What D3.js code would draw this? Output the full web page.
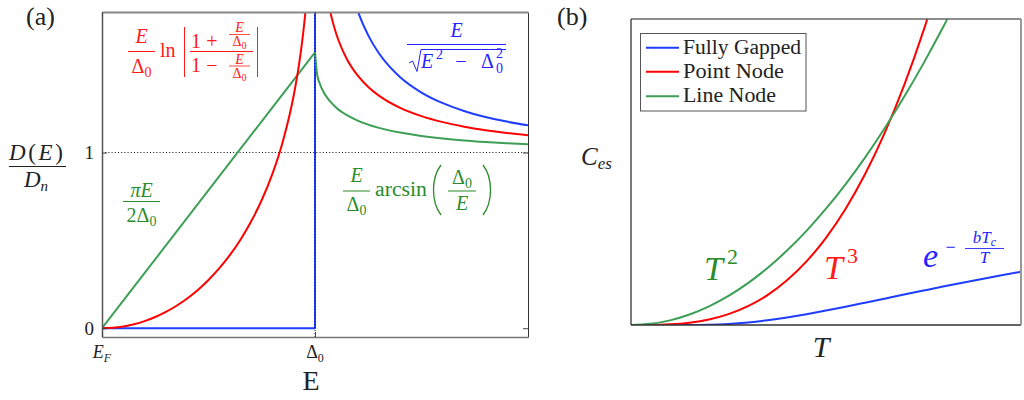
<!DOCTYPE html>
<html>
<head>
<meta charset="utf-8">
<script src="https://cdn.jsdelivr.net/npm/d3@7"></script>
<style>
  body { margin: 0; background: #fff; }
  svg { display: block; }
</style>
</head>
<body>
<svg id="chart" width="1024" height="400"></svg>
<script>
// ---------- Panel (a): D(E)/Dn against E (E in units of Δ0) ----------
const lineNodeBelowE = [0, 1];
const lineNodeBelowD = [0, 1.5708];
const lineNodeAboveE = [1, 1.01, 1.02, 1.05, 1.1, 1.15, 1.2, 1.3, 1.4, 1.5, 1.6, 1.7, 1.8, 1.9, 2.0];
const lineNodeAboveD = [1.5708, 1.4442, 1.3999, 1.3240, 1.2553, 1.2126, 1.1821, 1.1406, 1.1136, 1.0946, 1.0802, 1.0691, 1.0603, 1.0530, 1.0472];

const pointNodeBelowE = [0, 0.05, 0.1, 0.15, 0.2, 0.25, 0.3, 0.35, 0.4, 0.45, 0.5, 0.55, 0.6, 0.65, 0.7, 0.75, 0.8, 0.85, 0.9, 0.92, 0.94, 0.95, 0.96, 0.97];
const pointNodeBelowD = [0, 0.0025, 0.0100, 0.0227, 0.0405, 0.0639, 0.0929, 0.1279, 0.1695, 0.2181, 0.2747, 0.3401, 0.4159, 0.5040, 0.6071, 0.7297, 0.8789, 1.0677, 1.3250, 1.4619, 1.6338, 1.7402, 1.8681, 2.0295];
const pointNodeAboveE = [1.03, 1.04, 1.05, 1.06, 1.08, 1.1, 1.15, 1.2, 1.25, 1.3, 1.4, 1.5, 1.6, 1.7, 1.8, 1.9, 2.0];
const pointNodeAboveD = [2.1705, 2.0446, 1.9496, 1.8741, 1.7594, 1.6745, 1.5310, 1.4387, 1.3733, 1.3240, 1.2542, 1.2071, 1.1731, 1.1474, 1.1275, 1.1116, 1.0986];

const fullGapBelowE = [0, 1, 1];
const fullGapBelowD = [0, 0, 2.0];
const fullGapAboveE = [1.1, 1.15, 1.2, 1.25, 1.3, 1.35, 1.4, 1.5, 1.6, 1.7, 1.8, 1.9, 2.0];
const fullGapAboveD = [2.4004, 2.0250, 1.8091, 1.6667, 1.5650, 1.4886, 1.4289, 1.3416, 1.2810, 1.2366, 1.2027, 1.1761, 1.1547];

const yTicksA = [0, 1];
const xTicksA = [0, 1];

// ---------- Panel (b): electronic specific heat against T ----------
const temperature = [0, 0.05, 0.1, 0.15, 0.2, 0.25, 0.3, 0.35, 0.4, 0.45, 0.5, 0.55, 0.6, 0.65, 0.7, 0.75, 0.8, 0.85, 0.9, 0.95, 1.0];
const fullGapC   = [0, 0, 0, 0.0001, 0.0009, 0.0035, 0.0083, 0.0154, 0.0245, 0.0352, 0.0471, 0.0597, 0.0728, 0.0861, 0.0994, 0.1125, 0.1255, 0.1382, 0.1505, 0.1625, 0.1740];
const pointNodeC = [0, 0.0003, 0.0023, 0.0077, 0.0182, 0.0356, 0.0616, 0.0978, 0.1459, 0.2078, 0.2850, 0.3793, 0.4925, 0.6262, 0.7820, 0.9619, 1.1674];
const lineNodeC  = [0, 0.0038, 0.0152, 0.0342, 0.0608, 0.0950, 0.1368, 0.1862, 0.2432, 0.3078, 0.3800, 0.4598, 0.5472, 0.6422, 0.7448, 0.8550, 0.9728, 1.0982];

const legendLabels = ["Fully Gapped", "Point Node", "Line Node"];

// ---------- colours and type ----------
const BLUE = "#1f3dff", RED = "#ff0000", GREEN = "#3d9f55";
const BLUE_T = "#2424ff", RED_T = "#ff1a1a", GREEN_T = "#2a8c2a";
const SERIF = "'Liberation Serif', 'DejaVu Serif', serif";

const svg = d3.select("#chart");

const zip = (xs, ys) => xs.map((x, i) => [x, ys[i]]);

// text with tspans: parts = [{t, i (italic), fs, dx, dy}]
function mtext(parent, x, y, size, color, anchor, parts, len, adjust) {
  const t = parent.append("text")
    .attr("x", x).attr("y", y)
    .style("font-family", SERIF)
    .attr("font-size", size).attr("fill", color)
    .attr("text-anchor", anchor);
  if (len) t.attr("textLength", len).attr("lengthAdjust", adjust || "spacingAndGlyphs");
  parts.forEach(p => {
    const s = t.append("tspan").text(p.t);
    if (p.i) s.attr("font-style", "italic");
    if (p.fs) s.attr("font-size", p.fs);
    if (p.dx) s.attr("dx", p.dx);
    if (p.dy) s.attr("dy", p.dy);
  });
  return t;
}
function hline(parent, x1, x2, y, color, w) {
  parent.append("line").attr("x1", x1).attr("x2", x2).attr("y1", y).attr("y2", y)
    .attr("stroke", color).attr("stroke-width", w || 1);
}
function vline(parent, x, y1, y2, color, w) {
  parent.append("line").attr("x1", x).attr("x2", x).attr("y1", y1).attr("y2", y2)
    .attr("stroke", color).attr("stroke-width", w || 1);
}

// ================= Panel (a) =================
const xa = d3.scaleLinear().domain([0, 2]).range([102, 528]);
const ya = d3.scaleLinear().domain([-0.05, 1.8]).range([337, 12]);

const gA = svg.append("g");
svg.append("defs").append("clipPath").attr("id", "clipA")
  .append("rect").attr("x", xa(0)).attr("y", ya(1.8))
  .attr("width", xa(2) - xa(0)).attr("height", ya(-0.05) - ya(1.8));

// reference line at D = Dn
gA.append("line")
  .attr("x1", xa(0)).attr("x2", xa(2)).attr("y1", ya(1)).attr("y2", ya(1))
  .attr("stroke", "#000").attr("stroke-width", 1).attr("stroke-dasharray", "1,2.2");

const lineA = d3.line().x(d => xa(d[0])).y(d => ya(d[1]));
const smoothA = d3.line().x(d => xa(d[0])).y(d => ya(d[1])).curve(d3.curveMonotoneX);
const curvesA = gA.append("g").attr("clip-path", "url(#clipA)")
  .attr("fill", "none").attr("stroke-width", 2).attr("stroke-linejoin", "round");

curvesA.append("path").attr("d", lineA(zip(fullGapBelowE, fullGapBelowD))).attr("stroke", BLUE);
curvesA.append("path").attr("d", smoothA(zip(fullGapAboveE, fullGapAboveD))).attr("stroke", BLUE);
curvesA.append("path").attr("d", lineA(zip(lineNodeBelowE, lineNodeBelowD))).attr("stroke", GREEN);
curvesA.append("path").attr("d", smoothA(zip(lineNodeAboveE, lineNodeAboveD))).attr("stroke", GREEN);
curvesA.append("path").attr("d", smoothA(zip(pointNodeBelowE, pointNodeBelowD))).attr("stroke", RED);
curvesA.append("path").attr("d", smoothA(zip(pointNodeAboveE, pointNodeAboveD))).attr("stroke", RED);

// dotted marker at the gap edge
gA.append("line")
  .attr("x1", xa(1)).attr("x2", xa(1)).attr("y1", ya(-0.05)).attr("y2", ya(1.8))
  .attr("stroke", "#10106a").attr("stroke-width", 1).attr("stroke-dasharray", "1,2");

// axes
const axL = gA.append("g").attr("transform", `translate(${xa(0)},0)`)
  .call(d3.axisLeft(ya).tickValues(yTicksA).tickFormat(d3.format("d")).tickSizeInner(-5).tickSizeOuter(0).tickPadding(8));
const axR = gA.append("g").attr("transform", `translate(${xa(2)},0)`)
  .call(d3.axisRight(ya).tickValues(yTicksA).tickFormat("").tickSizeInner(-5).tickSizeOuter(0));
const axB = gA.append("g").attr("transform", `translate(0,${ya(-0.05)})`)
  .call(d3.axisBottom(xa).tickValues(xTicksA).tickFormat("").tickSizeInner(-5).tickSizeOuter(0));
const axT = gA.append("g").attr("transform", `translate(0,${ya(1.8)})`)
  .call(d3.axisTop(xa).tickValues(xTicksA).tickFormat("").tickSizeInner(-5).tickSizeOuter(0));

axL.select(".domain").attr("stroke", "#555").attr("stroke-width", 1.5);
axB.select(".domain").attr("stroke", "#777").attr("stroke-width", 1.5);
axT.select(".domain").attr("stroke", "#888").attr("stroke-width", 2);
axR.select(".domain").attr("stroke", "#333").attr("stroke-width", 1);
gA.selectAll(".tick line").attr("stroke", "#444");
axL.selectAll(".tick text").style("font-family", SERIF).attr("font-size", 19).attr("fill", "#222");

// bottom tick labels E_F and Δ0
mtext(gA, xa(0), 358, 18, "#222", "middle", [{t: "E", i: true}, {t: "F", i: true, fs: 12, dy: 4}]);
mtext(gA, xa(1), 358, 18, "#222", "middle", [{t: "Δ"}, {t: "0", fs: 12, dy: 4}]);

// axis titles
mtext(gA, 311, 390, 28, "#222", "middle", [{t: "E"}]);
mtext(gA, 36, 160, 23, "#222", "middle", [{t: "D", i: true}, {t: "("}, {t: "E", i: true}, {t: ")"}], 54, "spacing");
hline(gA, 9, 66, 166.5, "#222", 1.2);
mtext(gA, 36, 187, 23, "#222", "middle", [{t: "D", i: true}, {t: "n", i: true, fs: 15, dy: 4}]);

// panel letter
mtext(svg, 26, 25, 26, "#222", "start", [{t: "(a)"}]);

// ---- equation: point node, E/Δ0 ln|(1+E/Δ0)/(1−E/Δ0)| ----
const eqR = gA.append("g");
mtext(eqR, 141.5, 43, 20, RED_T, "middle", [{t: "E", i: true}]);
hline(eqR, 128, 155, 51.5, RED_T, 1);
mtext(eqR, 141.5, 73, 20, RED_T, "middle", [{t: "Δ"}, {t: "0", fs: 14, dy: 4}]);
mtext(eqR, 160, 57, 20, RED_T, "start", [{t: "ln"}]);
vline(eqR, 184.5, 27, 77, RED_T, 1);
vline(eqR, 257.5, 27, 77, RED_T, 1);
hline(eqR, 190, 253, 51.5, RED_T, 1);
mtext(eqR, 191, 47.5, 20, RED_T, "start", [{t: "1"}]);
mtext(eqR, 212, 47.5, 20, RED_T, "middle", [{t: "+"}]);
mtext(eqR, 239.5, 31.5, 14, RED_T, "middle", [{t: "E", i: true}]);
hline(eqR, 229, 250, 34.5, RED_T, 0.8);
mtext(eqR, 239.5, 46, 14, RED_T, "middle", [{t: "Δ"}, {t: "0", fs: 10, dy: 3}]);
mtext(eqR, 191, 72, 20, RED_T, "start", [{t: "1"}]);
mtext(eqR, 212, 72, 20, RED_T, "middle", [{t: "−"}]);
mtext(eqR, 239.5, 63.5, 14, RED_T, "middle", [{t: "E", i: true}]);
hline(eqR, 229, 250, 66, RED_T, 0.8);
mtext(eqR, 239.5, 78, 14, RED_T, "middle", [{t: "Δ"}, {t: "0", fs: 10, dy: 3}]);

// ---- equation: fully gapped, E/sqrt(E²−Δ0²) ----
const eqB = gA.append("g");
mtext(eqB, 456.5, 37, 20, BLUE_T, "middle", [{t: "E", i: true}]);
hline(eqB, 407, 506, 44.5, BLUE_T, 1);
eqB.append("path").attr("d", "M409,63 L412.5,61 L417,71.5 L421,49.5 L506,49.5")
  .attr("fill", "none").attr("stroke", BLUE_T).attr("stroke-width", 1);
mtext(eqB, 421, 68, 20, BLUE_T, "start", [{t: "E", i: true}]);
mtext(eqB, 436, 59, 14, BLUE_T, "start", [{t: "2"}]);
mtext(eqB, 461, 68, 20, BLUE_T, "middle", [{t: "−"}]);
mtext(eqB, 481, 68, 20, BLUE_T, "start", [{t: "Δ"}]);
mtext(eqB, 496, 58, 14, BLUE_T, "start", [{t: "2"}]);
mtext(eqB, 496, 73, 14, BLUE_T, "start", [{t: "0"}]);

// ---- equation: line node below gap, πE/(2Δ0) ----
const eqG1 = gA.append("g");
mtext(eqG1, 141.5, 197, 20, GREEN_T, "middle", [{t: "π", i: true}, {t: "E", i: true}]);
hline(eqG1, 123, 160, 201.5, GREEN_T, 1);
mtext(eqG1, 141.5, 222, 20, GREEN_T, "middle", [{t: "2Δ"}, {t: "0", fs: 14, dy: 4}]);

// ---- equation: line node above gap, E/Δ0 arcsin(Δ0/E) ----
const eqG2 = gA.append("g");
mtext(eqG2, 356.5, 182, 20, GREEN_T, "middle", [{t: "E", i: true}]);
hline(eqG2, 343, 370, 191, GREEN_T, 1);
mtext(eqG2, 356.5, 211, 20, GREEN_T, "middle", [{t: "Δ"}, {t: "0", fs: 14, dy: 4}]);
mtext(eqG2, 375, 196, 20, GREEN_T, "start", [{t: "arcsin"}], 52);
eqG2.append("path").attr("d", "M441,165 C431,178 431,202 441,215")
  .attr("fill", "none").attr("stroke", GREEN_T).attr("stroke-width", 1.3);
eqG2.append("path").attr("d", "M483,165 C493,178 493,202 483,215")
  .attr("fill", "none").attr("stroke", GREEN_T).attr("stroke-width", 1.3);
mtext(eqG2, 462, 184, 20, GREEN_T, "middle", [{t: "Δ"}, {t: "0", fs: 14, dy: 4}]);
hline(eqG2, 448, 476, 191, GREEN_T, 1);
mtext(eqG2, 462, 210, 20, GREEN_T, "middle", [{t: "E", i: true}]);

// ================= Panel (b) =================
const xb = d3.scaleLinear().domain([0, 1]).range([631, 1021]);
const yb = d3.scaleLinear().domain([0, 1]).range([325, 19]);
const gB = svg.append("g");
svg.select("defs").append("clipPath").attr("id", "clipB")
  .append("rect").attr("x", xb(0)).attr("y", yb(1))
  .attr("width", xb(1) - xb(0)).attr("height", yb(0) - yb(1));

const smoothB = d3.line().x(d => xb(d[0])).y(d => yb(d[1])).curve(d3.curveMonotoneX);
const curvesB = gB.append("g").attr("clip-path", "url(#clipB)")
  .attr("fill", "none").attr("stroke-width", 2).attr("stroke-linejoin", "round");
curvesB.append("path").attr("d", smoothB(zip(temperature, fullGapC))).attr("stroke", BLUE);
curvesB.append("path").attr("d", smoothB(zip(temperature.slice(0, pointNodeC.length), pointNodeC))).attr("stroke", RED);
curvesB.append("path").attr("d", smoothB(zip(temperature.slice(0, lineNodeC.length), lineNodeC))).attr("stroke", GREEN);

// frame
hline(gB, xb(0), xb(1), yb(1), "#666", 1.3);
hline(gB, xb(0), xb(1), yb(0), "#333", 1.3);
vline(gB, xb(0), yb(0), yb(1), "#333", 1.3);
vline(gB, xb(1), yb(0), yb(1), "#999", 2);

// legend
const leg = gB.append("g");
leg.append("rect").attr("x", 640.5).attr("y", 33.5).attr("width", 165.5).attr("height", 77.5)
  .attr("fill", "#fff").attr("stroke", "#555").attr("stroke-width", 1);
const legColors = [BLUE, RED, GREEN];
const legY = [47.7, 71.7, 96.2];
const legLen = [118, 101, 93];
legendLabels.forEach((lab, i) => {
  hline(leg, 646, 679, legY[i], legColors[i], 2);
  mtext(leg, 683, legY[i] + 6, 20, "#222", "start", [{t: lab}], legLen[i]);
});

// axis titles
mtext(gB, 821, 357, 30, "#222", "middle", [{t: "T", i: true}]);
mtext(gB, 581, 165, 25, "#222", "start", [{t: "C", i: true}, {t: "es", i: true, fs: 17, dy: 4}]);
mtext(svg, 557, 25, 26, "#222", "start", [{t: "(b)"}]);

// curve labels
mtext(gB, 704, 280, 34, GREEN_T, "start", [{t: "T", i: true}]);
mtext(gB, 727, 264, 22, GREEN_T, "start", [{t: "2"}]);
mtext(gB, 824, 279, 34, RED_T, "start", [{t: "T", i: true}]);
mtext(gB, 847, 263, 22, RED_T, "start", [{t: "3"}]);
mtext(gB, 923, 267, 34, BLUE_T, "start", [{t: "e", i: true}]);
mtext(gB, 950.5, 253, 18, BLUE_T, "middle", [{t: "−"}]);
mtext(gB, 984.5, 243, 17, BLUE_T, "middle", [{t: "b", i: true}, {t: "T", i: true}, {t: "c", i: true, fs: 12, dy: 3}]);
hline(gB, 965, 1004, 248.5, BLUE_T, 0.9);
mtext(gB, 984.5, 263, 17, BLUE_T, "middle", [{t: "T", i: true}]);
</script>
</body>
</html>
